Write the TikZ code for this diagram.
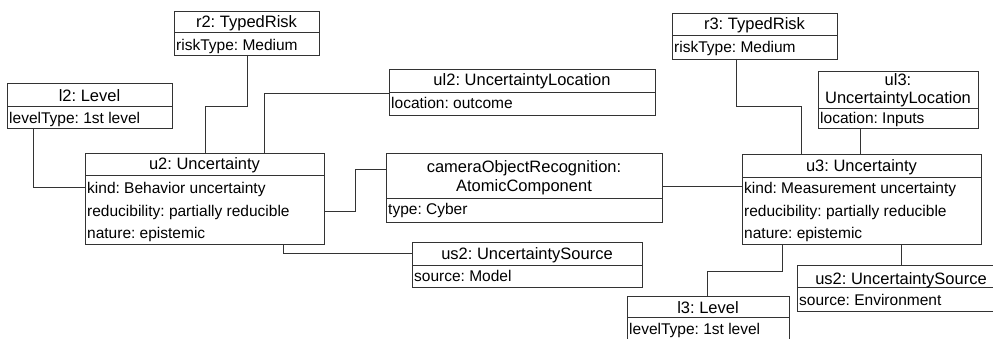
\documentclass[tikz,border=0pt]{standalone}
\usepackage{fontspec}
\setmainfont{Liberation Sans}
\frenchspacing
\tikzset{
  x=1pt, y=-1pt,
  objbox/.style={draw=black!80, line width=0.9pt, fill=white, inner sep=0pt, outer sep=0pt, anchor=north west},
  objline/.style={draw=black!80, line width=0.9pt},
  conn/.style={draw=black!80, line width=0.9pt},
  hdr/.style={inner sep=0pt, anchor=base, font=\fontsize{16.5}{18}\selectfont\frenchspacing},
  attr/.style={inner sep=0pt, anchor=base west, font=\fontsize{15.5}{17}\selectfont\frenchspacing},
}
% name, x1, y1, x2, y2, ydiv
\newcommand{\objframe}[6]{%
  \node[objbox, minimum width={(#4-#2)*1pt}, minimum height={(#5-#3)*1pt}] (#1) at (#2,#3) {};
  \draw[objline] (#2,#6) -- (#4,#6);
}
\begin{document}
\begin{tikzpicture}
\useasboundingbox (0,0) rectangle (993,339);
\clip (0,0) rectangle (993,339);

% r2
\objframe{r2}{174}{11}{319}{55}{32}
\node[hdr] (r2h) at (246.5,27.5) {r2: TypedRisk};
\node[attr] (r2a) at (176,50.6) {riskType: Medium};

% l2
\objframe{l2}{7}{83}{172}{128}{106}
\node[hdr] (l2h) at (89.5,102) {l2: Level};
\node[attr] (l2a) at (9,123.6) {levelType: 1st level};

% u2
\objframe{u2}{85}{153}{324}{244}{175}
\node[hdr] (u2h) at (204.5,170) {u2: Uncertainty};
\node[attr] (u2a1) at (87,193.6) {kind: Behavior uncertainty};
\node[attr] (u2a2) at (87,216.6) {reducibility: partially reducible};
\node[attr] (u2a3) at (87,238.6) {nature: epistemic};

% ul2
\objframe{ul2}{389}{69}{655}{115}{92}
\node[hdr] (ul2h) at (522,86) {ul2: UncertaintyLocation};
\node[attr] (ul2a) at (391,108.6) {location: outcome};

% camera
\objframe{camera}{386}{153}{662}{222}{198}
\node[hdr] (camh1) at (524,172.5) {cameraObjectRecognition:};
\node[hdr] (camh2) at (524,191.5) {AtomicComponent};
\node[attr] (cama) at (388,214.6) {type: Cyber};

% us2 (left)
\objframe{us2a}{412}{242}{642}{287}{265}
\node[hdr] (us2ah) at (527,259) {us2: UncertaintySource};
\node[attr] (us2aa) at (414,281.6) {source: Model};

% r3
\objframe{r3}{672}{13}{837}{59}{35}
\node[hdr] (r3h) at (754.5,30) {r3: TypedRisk};
\node[attr] (r3a) at (674,52.6) {riskType: Medium};

% ul3
\objframe{ul3}{818}{71}{978}{128}{108}
\node[hdr] (ul3h1) at (898,86) {ul3:};
\node[hdr] (ul3h2) at (898,104) {UncertaintyLocation};
\node[attr] (ul3a) at (820,123.6) {location: Inputs};

% u3
\objframe{u3}{742}{154}{981}{244}{177}
\node[hdr] (u3h) at (861.5,171.7) {u3: Uncertainty};
\node[attr] (u3a1) at (744,193.6) {kind: Measurement uncertainty};
\node[attr] (u3a2) at (744,216.6) {reducibility: partially reducible};
\node[attr] (u3a3) at (744,238.6) {nature: epistemic};

% l3
\objframe{l3}{627}{296}{789}{350}{317}
\node[hdr] (l3h) at (708,313) {l3: Level};
\node[attr] (l3a) at (629,334.6) {levelType: 1st level};

% us2 (right)
\objframe{us2b}{797}{265}{1005}{311}{287}
\node[hdr] (us2bh) at (901,284) {us2: UncertaintySource};
\node[attr] (us2ba) at (799,305.6) {source: Environment};

% connectors
\draw[conn] (l2.south -| 33,0) |- (u2.west |- 0,187);
\draw[conn] (r2.south -| 247,0) -- (247,106) -| (u2.north -| 205,0);
\draw[conn] (u2.north -| 264,0) |- (ul2.west |- 0,93);
\draw[conn] (u2.east |- 0,211) -- (355,211) |- (camera.west |- 0,169);
\draw[conn] (u2.south -| 283,0) |- (us2a.west |- 0,253);
\draw[conn] (camera.east |- 0,186) -- (u3.west |- 0,186);
\draw[conn] (r3.south -| 736,0) -- (736,106) -| (u3.north -| 801,0);
\draw[conn] (ul3.south -| 860,0) -- (u3.north -| 860,0);
\draw[conn] (u3.south -| 782,0) -- (782,271) -| (l3.north -| 707,0);
\draw[conn] (u3.south -| 901,0) -- (us2b.north -| 901,0);
\end{tikzpicture}
\end{document}
